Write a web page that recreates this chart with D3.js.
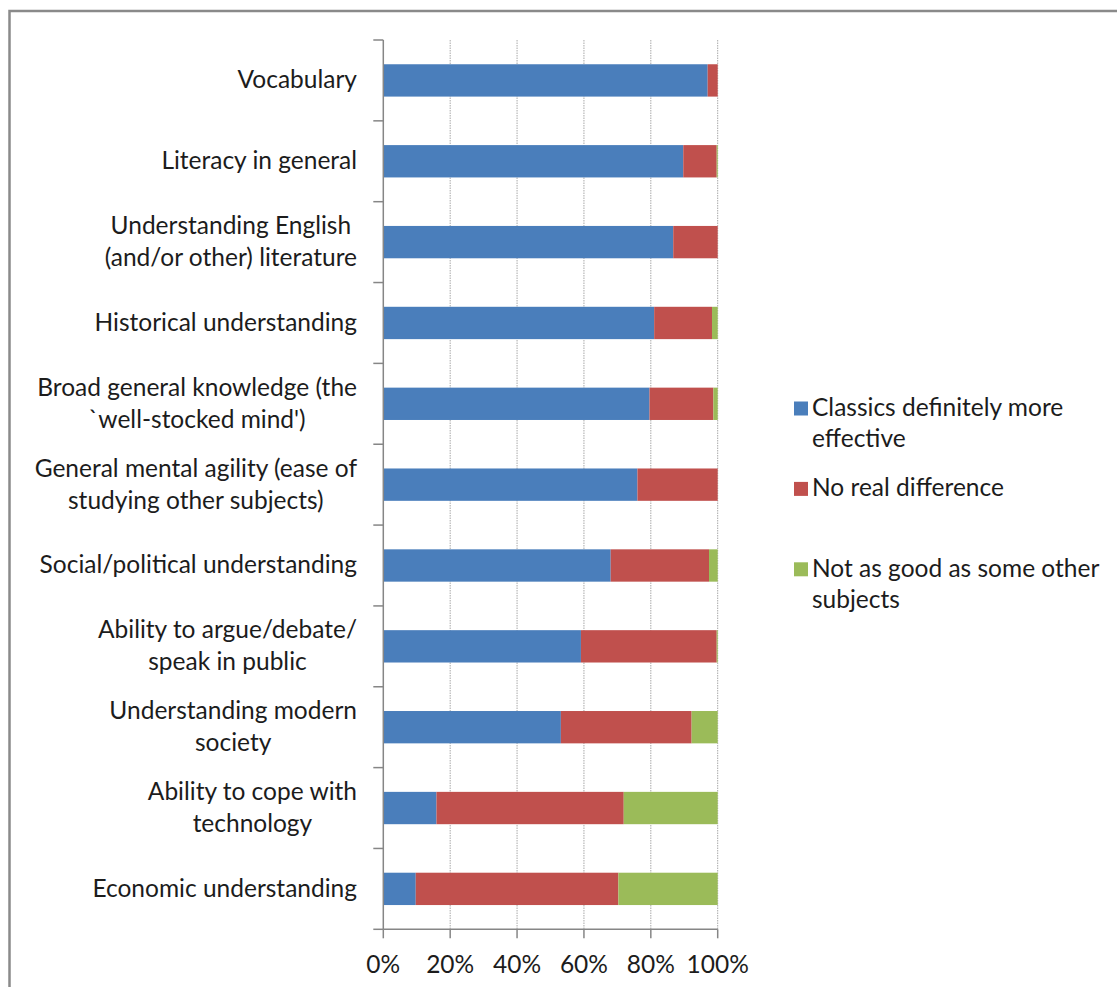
<!DOCTYPE html>
<html>
<head>
<meta charset="utf-8">
<script src="https://cdn.jsdelivr.net/npm/d3@7"></script>
<style>
  body { margin: 0; background: #fff; }
  text { font-family: Lato, "Open Sans", sans-serif; fill: #1c1c1c; }
</style>
</head>
<body>
<svg id="chart" width="1117" height="987"></svg>
<script>
// Categories, top to bottom ("\n" marks a wrapped line)
const categories = [
  "Vocabulary",
  "Literacy in general",
  "Understanding English\n(and/or other) literature",
  "Historical understanding",
  "Broad general knowledge (the\n`well-stocked mind')",
  "General mental agility (ease of\nstudying other subjects)",
  "Social/political understanding",
  "Ability to argue/debate/\nspeak in public",
  "Understanding modern\nsociety",
  "Ability to cope with\ntechnology",
  "Economic understanding"
];

// Share of responses (%) per category
const classicsMore = [97.0, 89.7, 86.7, 81.0, 79.6, 76.0, 68.0, 59.1, 53.1, 15.9, 9.7];
const noDifference = [3.0, 10.0, 13.3, 17.3, 19.1, 24.0, 29.4, 40.6, 39.1, 56.0, 60.6];
const notAsGood    = [0.0, 0.3, 0.0, 1.7, 1.3, 0.0, 2.6, 0.3, 7.8, 28.1, 29.7];

const seriesKeys   = ["classics", "same", "worse"];
const seriesNames  = ["Classics definitely more\neffective", "No real difference", "Not as good as some other\nsubjects"];
const seriesColors = ["#4A7EBB", "#C0504D", "#9BBB59"];

const xTicks = [0, 20, 40, 60, 80, 100];

const rows = categories.map((c, i) => ({
  category: c,
  classics: classicsMore[i],
  same: noDifference[i],
  worse: notAsGood[i]
}));

const svg = d3.select("#chart");
const fontSize = 24.5;
const axisColor = "#868686";

// Outer chart frame
svg.append("rect")
  .attr("x", 9.5).attr("y", 11)
  .attr("width", 1300).attr("height", 1300)
  .attr("fill", "none")
  .attr("stroke", "#8a8a8a")
  .attr("stroke-width", 2.5);

const plot = { left: 383.3, right: 717.7, top: 40, bottom: 929.3 };

const x = d3.scaleLinear().domain([0, 100]).range([plot.left, plot.right]);
const y = d3.scaleBand()
  .domain(categories)
  .range([plot.top, plot.bottom])
  .paddingInner(0.6)
  .paddingOuter(0.3);

// Vertical gridlines
svg.append("g").selectAll("line")
  .data(xTicks.filter(d => d > 0))
  .join("line")
  .attr("x1", d => x(d)).attr("x2", d => x(d))
  .attr("y1", plot.top).attr("y2", plot.bottom)
  .attr("stroke", "#a8a8a8")
  .attr("stroke-width", 1)
  .attr("stroke-dasharray", "1.5,1");

// Stacked bars
const stack = d3.stack().keys(seriesKeys);
const layers = stack(rows);

svg.append("g").selectAll("g")
  .data(layers)
  .join("g")
  .attr("fill", (d, i) => seriesColors[i])
  .selectAll("rect")
  .data(d => d)
  .join("rect")
  .attr("x", d => x(d[0]))
  .attr("width", d => Math.max(0, x(d[1]) - x(d[0])))
  .attr("y", d => y(d.data.category))
  .attr("height", y.bandwidth());

// Category axis (left) with ticks at band boundaries
const step = y.step();
const boundaries = d3.range(categories.length + 1).map(k => plot.top + k * step);
const yAxis = svg.append("g");
yAxis.append("line")
  .attr("x1", plot.left).attr("x2", plot.left)
  .attr("y1", plot.top).attr("y2", plot.bottom)
  .attr("stroke", axisColor).attr("stroke-width", 1.5);
yAxis.selectAll("line.tick")
  .data(boundaries)
  .join("line")
  .attr("class", "tick")
  .attr("x1", plot.left - 10).attr("x2", plot.left)
  .attr("y1", d => d).attr("y2", d => d)
  .attr("stroke", axisColor).attr("stroke-width", 1.5);

// Category labels: block right-aligned, lines centred within the block
const labelRight = 357;
const lineGap = 32;
categories.forEach(cat => {
  const lines = cat.split("\n");
  const cy = y(cat) + y.bandwidth() / 2;
  const g = svg.append("g");
  const texts = lines.map((ln, j) => g.append("text")
    .attr("font-size", fontSize)
    .attr("text-anchor", "middle")
    .attr("y", cy + 8 + (j - (lines.length - 1) / 2) * lineGap)
    .text(ln));
  const maxW = d3.max(texts, t => t.node().getComputedTextLength());
  texts.forEach(t => t.attr("x", labelRight - maxW / 2));
});

// Value axis (bottom)
const xAxis = svg.append("g");
xAxis.append("line")
  .attr("x1", plot.left).attr("x2", plot.right)
  .attr("y1", plot.bottom).attr("y2", plot.bottom)
  .attr("stroke", axisColor).attr("stroke-width", 1.5);
xAxis.selectAll("line.tick")
  .data(xTicks)
  .join("line")
  .attr("class", "tick")
  .attr("x1", d => x(d)).attr("x2", d => x(d))
  .attr("y1", plot.bottom).attr("y2", plot.bottom + 9)
  .attr("stroke", axisColor).attr("stroke-width", 1.5);
xAxis.selectAll("text")
  .data(xTicks)
  .join("text")
  .attr("x", d => x(d))
  .attr("y", 973)
  .attr("text-anchor", "middle")
  .attr("font-size", fontSize)
  .text(d => d + "%");

// Legend
const legend = svg.append("g");
const legendX = 794, legendBase = 416, legendStep = 80.4;
seriesNames.forEach((name, i) => {
  const base = legendBase + i * legendStep;
  legend.append("rect")
    .attr("x", legendX).attr("y", base - 14.5)
    .attr("width", 14).attr("height", 14)
    .attr("fill", seriesColors[i]);
  name.split("\n").forEach((ln, j) => {
    legend.append("text")
      .attr("x", legendX + 18)
      .attr("y", base + j * 31)
      .attr("font-size", fontSize)
      .text(ln);
  });
});
</script>
</body>
</html>
